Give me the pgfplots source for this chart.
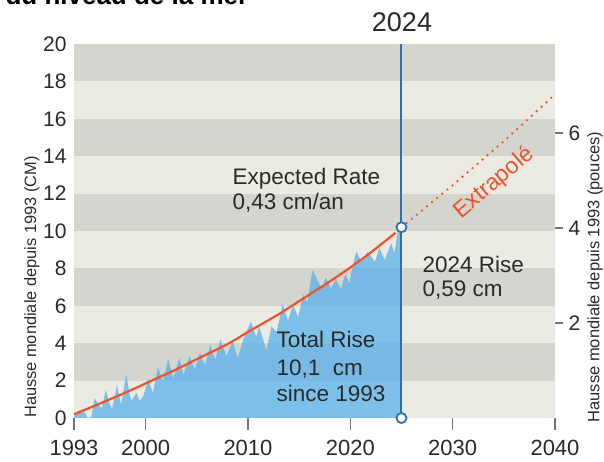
\documentclass[border=0pt]{standalone}
\usepackage{pgfplots}
\pgfplotsset{compat=1.18}
\usepackage{fontspec}
\setmainfont{Liberation Sans}
\definecolor{banddark}{HTML}{D5D5CF}
\definecolor{bandlight}{HTML}{ECEBE3}
\definecolor{seablue}{RGB}{77,174,237}
\definecolor{rateorange}{HTML}{F0522A}
\definecolor{lineblue}{HTML}{2B6FB6}
\definecolor{txt}{HTML}{2A2A2A}
\pgfplotstableread{
year val
1993.0 0.10
1993.5 0.40
1994.0 0.35
1994.3 0.02
1994.7 0.05
1995.0 1.05
1995.3 0.80
1995.7 0.50
1996.1 1.50
1996.4 0.90
1996.7 0.45
1997.2 1.75
1997.6 0.70
1998.1 2.35
1998.4 1.40
1998.6 0.90
1999.1 1.35
1999.4 0.90
1999.8 1.20
2000.25 2.10
2000.7 1.35
2001.2 2.70
2001.7 1.95
2002.2 3.15
2002.7 2.10
2003.3 3.20
2003.7 2.30
2004.3 3.30
2004.8 2.60
2005.3 3.50
2005.8 2.80
2006.3 3.90
2006.8 3.10
2007.3 4.20
2007.9 3.30
2008.5 4.10
2009.0 3.20
2009.6 4.30
2010.3 5.15
2010.8 4.35
2011.1 4.90
2011.8 3.60
2012.3 4.90
2012.8 4.60
2013.4 6.10
2013.9 5.20
2014.4 6.05
2014.9 5.40
2015.4 6.60
2015.8 6.20
2016.3 7.90
2016.6 7.60
2017.2 6.90
2017.6 7.50
2018.1 6.95
2018.6 7.40
2019.1 6.90
2019.5 7.70
2019.9 7.20
2020.3 8.30
2020.6 8.90
2021.1 8.35
2021.7 8.90
2022.4 8.35
2022.85 9.10
2023.35 8.45
2024.0 9.35
2024.3 8.80
2024.7 10.20
2025.0 9.90
}\seadata
\begin{document}
\begin{tikzpicture}[x=1pt,y=1pt]
\begin{axis}[
  at={(74pt,44pt)}, anchor=south west,
  scale only axis, width=481pt, height=374pt,
  xmin=1993, xmax=2040, ymin=0, ymax=20,
  clip=false,
  axis x line*=bottom, axis y line*=left,
  axis line style={draw=white, line width=0.01pt, -},
  xtick align=outside,
  major tick length=12pt,
  xtick={1993,2000,2010,2020,2030,2040},
  xticklabels={1993,2000,2010,2020,2030,2040},
  ytick={0,2,...,20},
  xtick style={draw=black!55, line width=1.1pt},
  ytick style={draw=none},
  /pgf/number format/assume math mode=true,
  xticklabel style={font=\fontsize{22}{22}\selectfont, text=txt, yshift=-7pt},
  yticklabel style={font=\fontsize{21}{21}\selectfont, text=txt, xshift=-4pt},
]
\fill[banddark] (axis cs:1993,18) rectangle (axis cs:2040,20);
\fill[bandlight] (axis cs:1993,16) rectangle (axis cs:2040,18);
\fill[banddark] (axis cs:1993,14) rectangle (axis cs:2040,16);
\fill[bandlight] (axis cs:1993,12) rectangle (axis cs:2040,14);
\fill[banddark] (axis cs:1993,10) rectangle (axis cs:2040,12);
\fill[bandlight] (axis cs:1993,8) rectangle (axis cs:2040,10);
\fill[banddark] (axis cs:1993,6) rectangle (axis cs:2040,8);
\fill[bandlight] (axis cs:1993,4) rectangle (axis cs:2040,6);
\fill[banddark] (axis cs:1993,2) rectangle (axis cs:2040,4);
\fill[bandlight] (axis cs:1993,0) rectangle (axis cs:2040,2);
\addplot[draw=none, fill=seablue, fill opacity=0.7] table[x=year,y=val]{\seadata} \closedcycle;
\addplot[rateorange, line width=2.2pt, smooth] coordinates {
(1993,0.2) (1995,0.65) (1998,1.35) (2000,1.85) (2003,2.6) (2005,3.15) (2008,3.95)
(2010,4.6) (2013,5.55) (2015,6.25) (2018,7.3) (2020,8.05) (2022,8.85) (2024.4,9.9)};
\addplot[rateorange, line width=2.6pt, line cap=round, dash pattern=on 0pt off 6.6pt] coordinates {
(2025,10.2) (2030,12.45) (2035,14.8) (2040,17.3)};
\addplot[draw=lineblue, line width=2pt, mark=none] coordinates {(2025,0) (2025,20)};
\addplot[only marks, mark=*, mark size=5pt, mark options={fill=white, draw=lineblue, line width=1.8pt}] coordinates {(2025,0) (2025,10.2)};
\end{axis}
\begin{axis}[
  at={(74pt,44pt)}, anchor=south west,
  scale only axis, width=481pt, height=374pt,
  xmin=1993, xmax=2040, ymin=0, ymax=7.874,
  axis x line=none, axis y line*=right,
  axis line style={draw=white, line width=0.01pt, -},
  ytick align=outside, major tick length=8pt,
  ytick={2,4,6},
  ytick style={draw=black!55, line width=1.1pt},
  /pgf/number format/assume math mode=true,
  yticklabel style={font=\fontsize{21}{21}\selectfont, text=txt, xshift=2pt},
]
\end{axis}
\begin{scope}[text=txt]
\node[anchor=base west, font=\fontsize{22.5}{22.5}\selectfont] at (229,277) {Expected Rate};
\node[anchor=base west, font=\fontsize{22.5}{22.5}\selectfont] at (229,252) {0,43 cm/an};
\node[anchor=base west, font=\fontsize{22.5}{22.5}\selectfont] at (419,189.3) {2024 Rise};
\node[anchor=base west, font=\fontsize{22.5}{22.5}\selectfont] at (419,165.3) {0,59 cm};
\node[anchor=base west, font=\fontsize{22.5}{22.5}\selectfont] at (273,114) {Total Rise};
\node[anchor=base west, font=\fontsize{22.5}{22.5}\selectfont] at (273,86) {10,1~~cm};
\node[anchor=base west, font=\fontsize{22.5}{22.5}\selectfont] at (273,60.3) {since 1993};
\node[font=\fontsize{27}{27}\selectfont] at (402,440) {2024};
\node[rotate=90, font=\fontsize{16.4}{16.4}\selectfont] at (32,175) {Hausse mondiale depuis 1993 (CM)};
\node[rotate=90, font=\fontsize{16.5}{16.5}\selectfont] at (595,185) {Hausse mondiale depuis 1993 (pouces)};
\node[anchor=base west, font=\fontsize{26}{26}\selectfont\bfseries, text=black] at (2,457) {du niveau de la mer};
\end{scope}
\node[rotate=40.5, text=rateorange, font=\fontsize{23}{23}\selectfont] at (494,279) {Extrapolé};
\pgfresetboundingbox
\path[use as bounding box] (0,0) rectangle (604,462);
\end{tikzpicture}
\end{document}
